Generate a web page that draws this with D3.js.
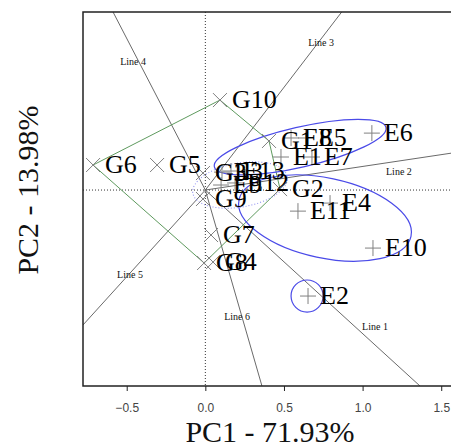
<!DOCTYPE html>
<html>
<head>
<meta charset="utf-8">
<script src="https://cdn.jsdelivr.net/npm/d3@7"></script>
<style>
  body { margin: 0; background: #fff; }
  .tickLab text { font-family: "Liberation Sans", Arial, sans-serif; font-size: 12px; fill: #444; }
  .axisTitle { font-family: "Liberation Serif", "Times New Roman", serif; font-size: 30px; fill: #111; }
  .pointLabel { font-family: "Liberation Serif", "Times New Roman", serif; font-size: 26px; fill: #000; }
  .lineLabel { font-family: "Liberation Serif", "Times New Roman", serif; font-size: 10px; fill: #111; }
</style>
</head>
<body>
<div id="plotdiv"></div>
<script>
//Genotype scores (x markers)
const genoNames = ["G1", "G2", "G3", "G4", "G5", "G6", "G7", "G8", "G9", "G10"];
const genoPC1 = [0.405, 0.475, -0.015, 0.049, -0.307, -0.714, 0.036, -0.008, -0.015, 0.093];
const genoPC2 = [0.312, 0.006, 0.108, -0.458, 0.159, 0.159, -0.286, -0.464, -0.057, 0.572];

//Environment scores (+ markers)
const envNames = ["E1", "E2", "E3", "E4", "E5", "E6", "E7", "E8", "E9", "E10", "E11", "E12", "E13"];
const envPC1 = [0.481, 0.653, 0.106, 0.793, 0.640, 1.059, 0.678, 0.545, 0.100, 1.066, 0.589, 0.189, 0.163];
const envPC2 = [0.210, -0.674, 0.114, -0.083, 0.331, 0.362, 0.210, 0.331, 0.032, -0.369, -0.134, 0.045, 0.121];

//Polygon vertices (which-won-where)
const hullOrder = ["G10", "G6", "G8", "G2", "G1"];

//Sector lines from the origin
const lineNames = ["Line 1", "Line 2", "Line 3", "Line 4", "Line 5", "Line 6"];
const lineEndPC1 = [1.365, 1.80, 0.867, -0.587, -0.778, 0.360];
const lineEndPC2 = [-1.246, 0.270, 1.132, 1.132, -0.858, -1.246];
const lineLabPC1 = [1.079, 1.231, 0.736, -0.459, -0.479, 0.202];
const lineLabPC2 = [-0.871, 0.114, 0.934, 0.814, -0.540, -0.807];

//Mega-environment ellipses (centre, semi axes, angle in degrees)
const ellCX = [0.603, 0.761, 0.221, 0.647];
const ellCY = [0.273, -0.178, 0.032, -0.674];
const ellA = [0.56, 0.559, 0.305, 0.102];
const ellB = [0.127, 0.254, 0.14, 0.102];
const ellAngle = [13, -12, 10, 0];
const ellDotted = [false, false, true, false];

const xTicks = [-0.5, 0.0, 0.5, 1.0, 1.5];
const xDomain = [-0.778, 1.683];
const yDomain = [-1.246, 1.132];

let width = 451;
let height = 447;
let plotLeft = 83, plotRight = 470, plotTop = 12, plotBottom = 386;

let svg = d3.select('#plotdiv').append('svg')
  .attr('width', width)
  .attr('height', height);

let xScale = d3.scaleLinear().domain(xDomain).range([plotLeft, plotRight]);
let yScale = d3.scaleLinear().domain(yDomain).range([plotBottom, plotTop]);

svg.append('clipPath').attr('id', 'plotClip')
  .append('rect')
  .attr('x', plotLeft).attr('y', plotTop)
  .attr('width', plotRight - plotLeft).attr('height', plotBottom - plotTop);

let plot = svg.append('g').attr('clip-path', 'url(#plotClip)');

//Dotted reference axes
plot.append('line')
  .attr('x1', xScale(0)).attr('x2', xScale(0))
  .attr('y1', plotTop).attr('y2', plotBottom)
  .attr('stroke', '#333').attr('stroke-width', 1).attr('stroke-dasharray', '1,2');
plot.append('line')
  .attr('x1', plotLeft).attr('x2', plotRight)
  .attr('y1', yScale(0)).attr('y2', yScale(0))
  .attr('stroke', '#333').attr('stroke-width', 1).attr('stroke-dasharray', '1,2');

//Sector lines
lineNames.forEach(function (name, i) {
  plot.append('line')
    .attr('x1', xScale(0)).attr('y1', yScale(0))
    .attr('x2', xScale(lineEndPC1[i])).attr('y2', yScale(lineEndPC2[i]))
    .attr('stroke', '#6a6a6a').attr('stroke-width', 1);
  plot.append('text')
    .attr('class', 'lineLabel')
    .attr('text-anchor', 'middle')
    .attr('x', xScale(lineLabPC1[i]))
    .attr('y', yScale(lineLabPC2[i]) + 3)
    .text(name);
});

//Polygon
let hullPts = hullOrder.map(function (g) {
  let i = genoNames.indexOf(g);
  return [xScale(genoPC1[i]), yScale(genoPC2[i])];
});
plot.append('polygon')
  .attr('points', hullPts.map(function (p) { return p.join(','); }).join(' '))
  .attr('fill', 'none')
  .attr('stroke', '#5e9a5e')
  .attr('stroke-width', 1);

//Ellipses
let unit = xScale(1) - xScale(0);
ellCX.forEach(function (cx, i) {
  plot.append('ellipse')
    .attr('transform', `translate(${xScale(cx)}, ${yScale(ellCY[i])}) rotate(${-ellAngle[i]})`)
    .attr('rx', ellA[i] * unit)
    .attr('ry', ellB[i] * unit)
    .attr('fill', 'none')
    .attr('stroke', ellDotted[i] ? '#8c8cf0' : '#4a4ae8')
    .attr('stroke-width', ellDotted[i] ? 1 : 1.2)
    .attr('stroke-dasharray', ellDotted[i] ? '1,2' : null);
});

//Genotype markers
let s = 7;
genoNames.forEach(function (name, i) {
  let px = xScale(genoPC1[i]), py = yScale(genoPC2[i]);
  plot.append('path')
    .attr('d', `M${px - s},${py - s}L${px + s},${py + s}M${px - s},${py + s}L${px + s},${py - s}`)
    .attr('stroke', '#808080').attr('stroke-width', 1).attr('fill', 'none');
});

//Environment markers
let p = 8;
envNames.forEach(function (name, i) {
  let px = xScale(envPC1[i]), py = yScale(envPC2[i]);
  plot.append('path')
    .attr('d', `M${px - p},${py}L${px + p},${py}M${px},${py - p}L${px},${py + p}`)
    .attr('stroke', '#808080').attr('stroke-width', 1).attr('fill', 'none');
});

//Labels
genoNames.forEach(function (name, i) {
  plot.append('text')
    .attr('class', 'pointLabel')
    .attr('x', xScale(genoPC1[i]) + 12)
    .attr('y', yScale(genoPC2[i]) + 8)
    .text(name);
});
envNames.forEach(function (name, i) {
  plot.append('text')
    .attr('class', 'pointLabel')
    .attr('x', xScale(envPC1[i]) + 12)
    .attr('y', yScale(envPC2[i]) + 8)
    .text(name);
});

//Frame
svg.append('rect')
  .attr('x', plotLeft).attr('y', plotTop)
  .attr('width', plotRight - plotLeft).attr('height', plotBottom - plotTop)
  .attr('fill', 'none').attr('stroke', '#222').attr('stroke-width', 1.5);

//X axis
let xAxis = svg.append('g')
  .attr('class', 'tickLab')
  .attr('transform', `translate(0, ${plotBottom})`)
  .call(d3.axisBottom(xScale).tickValues(xTicks).tickSize(5).tickPadding(12).tickFormat(d3.format('.1f')));
xAxis.select('.domain').remove();
xAxis.selectAll('line').attr('stroke', '#222');

svg.append('text')
  .attr('class', 'axisTitle')
  .attr('text-anchor', 'middle')
  .attr('x', 270)
  .attr('y', 442)
  .text('PC1 - 71.93%');

svg.append('text')
  .attr('class', 'axisTitle')
  .attr('text-anchor', 'middle')
  .attr('transform', 'rotate(-90)')
  .attr('x', -190)
  .attr('y', 38)
  .text('PC2 - 13.98%');
</script>
</body>
</html>
